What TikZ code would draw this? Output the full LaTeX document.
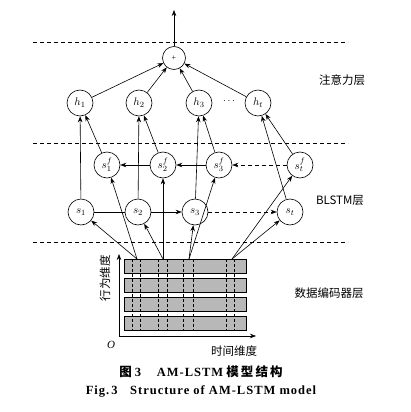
\documentclass[tikz,border=0pt]{standalone}
\usepackage{fontspec}
\setmainfont{Liberation Serif}
\newfontfamily\cjk{Noto Sans CJK SC}
\newfontfamily\capfont[LetterSpace=8]{Liberation Serif}
\newfontfamily\capcjk[LetterSpace=12]{Noto Sans CJK SC}
\usetikzlibrary{arrows.meta}
\begin{document}
\begin{tikzpicture}[x=1pt,y=-1pt,
  nd/.style={circle,draw,fill=white,line width=0.6pt,minimum size=26pt,inner sep=0pt,font=\fontsize{11}{11}\selectfont},
  arr/.style={-{Stealth[length=6pt,width=4.5pt]},line width=0.6pt},
  ln/.style={line width=0.6pt},
  sep/.style={line width=0.6pt,dash pattern=on 4pt off 3pt},
  blk/.style={draw,fill=black!28,line width=0.6pt},
  vd/.style={line width=0.5pt,dash pattern=on 3pt off 2pt},
  lab/.style={font=\cjk\fontsize{11.5}{12}\selectfont}]
\useasboundingbox (0,0) rectangle (410,412);
% separators
\draw[sep] (33,42) -- (348,42);
\draw[sep] (33,143) -- (348,143);
\draw[sep] (33,242) -- (348,242);
% nodes
\node[nd,minimum size=23pt] (plus) at (174,58) {\fontsize{8}{8}\selectfont +};
\coordinate (out) at (174,10);
\node[nd] (h1) at (80,103) {$h_1$};
\node[nd] (h2) at (139,103) {$h_2$};
\node[nd] (h3) at (199,103) {$h_3$};
\node[nd] (ht) at (258,103) {$h_t$};
\node (dots) at (229,101) {$\cdots$};
\node[nd] (b1) at (107,165) {$s_1^f$};
\node[nd] (b2) at (163,165) {$s_2^f$};
\node[nd] (b3) at (219,165) {$s_3^f$};
\node[nd] (bt) at (300,165) {$s_t^f$};
\node[nd] (s1) at (81,212) {$s_1$};
\node[nd] (s2) at (138,212) {$s_2$};
\node[nd] (s3) at (195,212) {$s_3$};
\node[nd] (st) at (290,212) {$s_t$};
% attention
\draw[arr] (plus) -- (out);
\foreach \h in {h1,h2,h3,ht} \draw[arr] (\h) -- (plus);
% to h
\draw[arr] (s1) -- (h1);
\draw[arr] (b1) -- (h1);
\draw[arr] (s2) -- (h2);
\draw[arr] (b2) -- (h2);
\draw[arr] (s3) -- (h3);
\draw[arr] (b3) -- (h3);
\draw[arr] (st) -- (ht);
\draw[arr] (bt) -- (ht);
% recurrent
\draw[ln] (s1) -- (s2);
\draw[arr] (s2) -- (s3);
\draw[arr,dash pattern=on 4pt off 3pt] (s3) -- (st);
\draw[arr] (b2) -- (b1);
\draw[arr] (b3) -- (b2);
\draw[arr,dash pattern=on 4pt off 3pt] (bt) -- (b3);
% data blocks
\foreach \y in {259,278,297,316} \draw[blk] (124,\y) rectangle (246,\y+14);
\foreach \x in {132,140,158,167,183,193,226,234} \draw[vd] (\x,259) -- (\x,331);
\coordinate (d1) at (137,259);
\coordinate (d2) at (163,259);
\coordinate (d3) at (189,259);
\coordinate (d4) at (232,259);
\draw[arr] (d1) -- (s1);
\draw[arr] (d1) -- (b1);
\draw[arr] (d2) -- (s2);
\draw[arr] (d2) -- (b2);
\draw[arr] (d3) -- (s3);
\draw[arr] (d3) -- (b3);
\draw[arr] (d4) -- (st);
\draw[arr] (d4) -- (bt);
% axes
\coordinate (o) at (119,336);
\coordinate (yax) at (119,254);
\coordinate (xax) at (256,336);
\draw[arr] (o) -- (yax);
\draw[arr] (o) -- (xax);
\node (olab) at (111,345) {\fontsize{11}{11}\selectfont\itshape O};
\node[lab,rotate=90] (ylab) at (105,278) {行为维度};
\node[lab] (xlab) at (234,351) {时间维度};
% layer labels
\node[lab] (l1) at (342,80) {注意力层};
\node[lab] (l2) at (340,200) {BLSTM层};
\node[lab] (l3) at (329,293) {数据编码器层};
% caption
\node (cap1) at (201,372) {\fontsize{12.5}{13}\selectfont\bfseries{\capcjk 图}\ {\capfont 3}\quad\ {\capfont AM-LSTM}\ {\capcjk 模\,型\,结\,构}};
\node (cap2) at (201,391) {\fontsize{12.5}{13}\selectfont\bfseries\capfont Fig.\,3\quad Structure of AM-LSTM model};
\end{tikzpicture}
\end{document}
